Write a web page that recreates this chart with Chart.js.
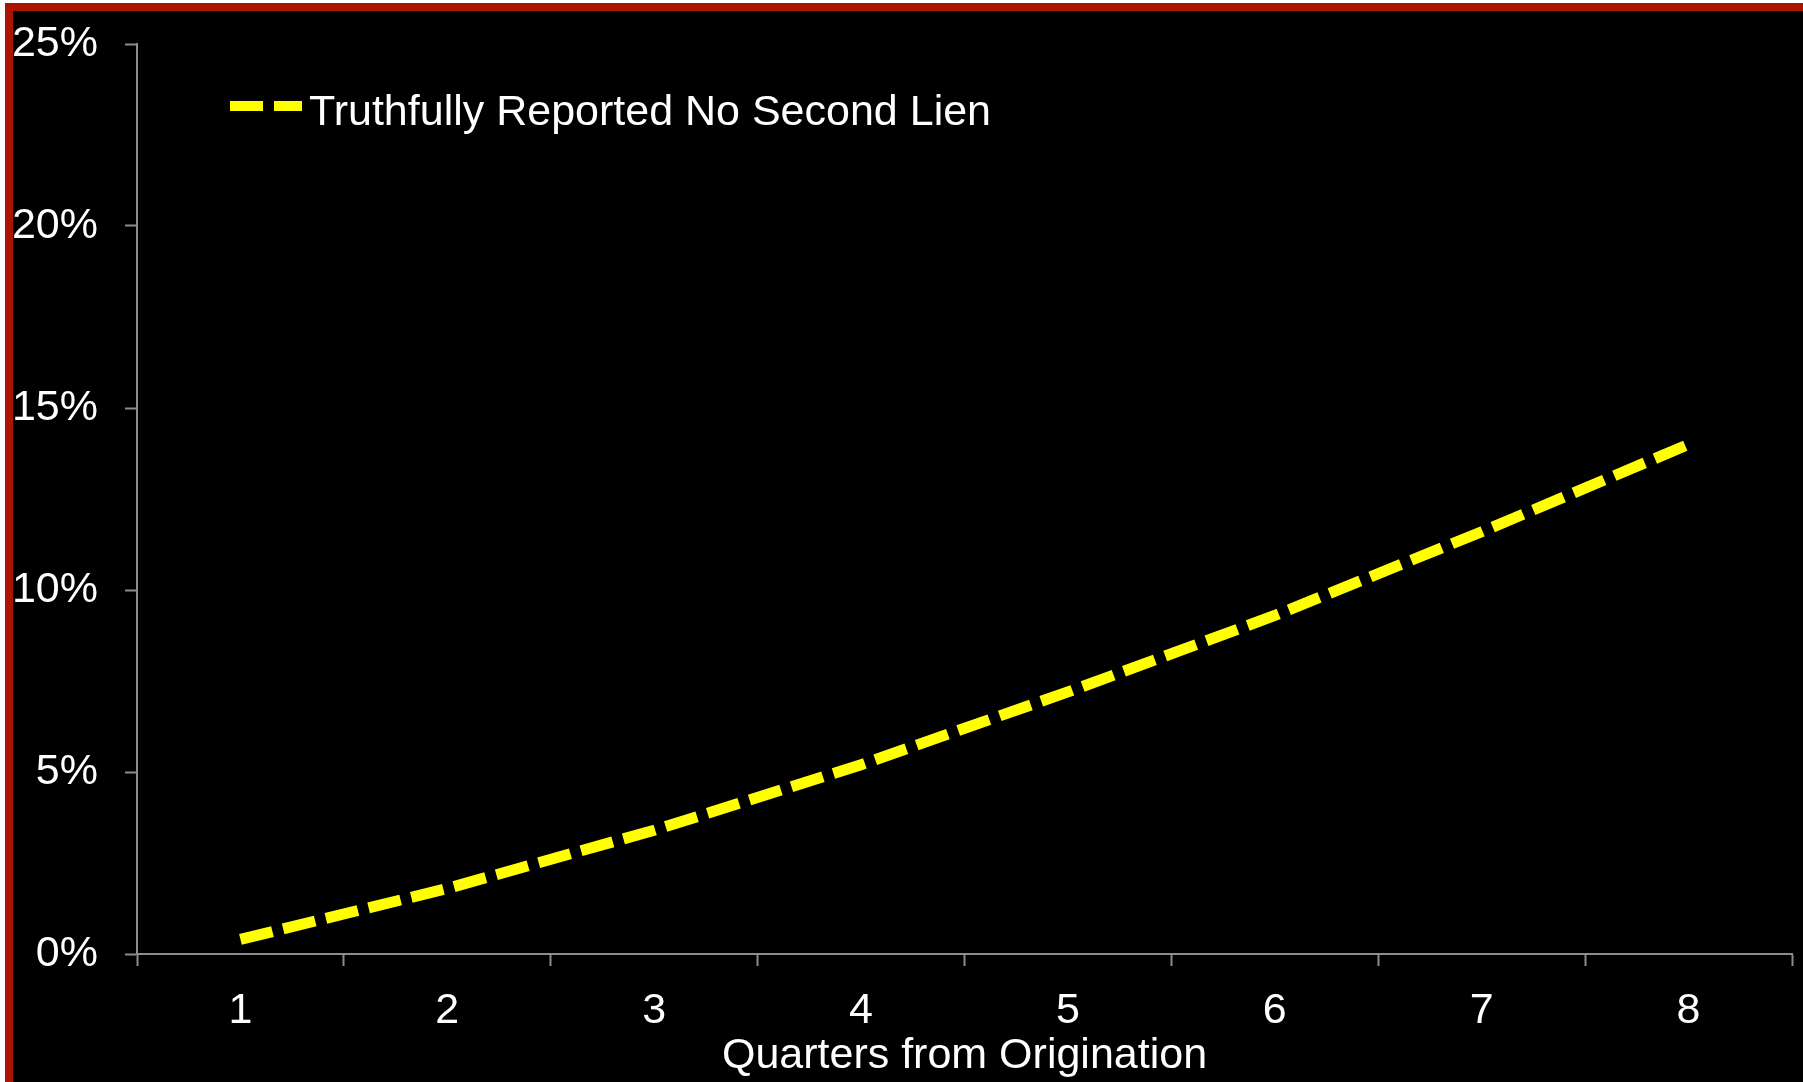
<!DOCTYPE html>
<html>
<head>
<meta charset="utf-8">
<script src="https://cdn.jsdelivr.net/npm/chart.js@4.4.1/dist/chart.umd.min.js"></script>
<style>
    html, body { margin: 0; padding: 0; background: #ffffff; overflow: hidden; }
    .frame {
        position: absolute;
        left: 5px;
        top: 3px;
        width: 1810px;
        height: 1090px;
        background: #000000;
        border-left: 8px solid #aa1400;
        border-top: 8px solid #aa1400;
        border-bottom: 8px solid #aa1400;
    }
    .wrap { position: absolute; left: 0; top: 0; width: 1803px; height: 1082px; }
</style>
</head>
<body>
<div class="frame"></div>
<div class="wrap"><canvas id="myChart" width="1803" height="1082"></canvas></div>
<script>
const quarters = ['1', '2', '3', '4', '5', '6', '7', '8'];
const noSecondLien = [0.4, 1.8, 3.4, 5.2, 7.2, 9.3, 11.6, 14.0];
const seriesLabel = 'Truthfully Reported No Second Lien';
const yTicks = [0, 5, 10, 15, 20, 25];

const axisGrey = '#8c8c8c';
const fontFamily = '"Liberation Sans", Arial, sans-serif';

// legend drawn by hand so the sample keeps the dash pattern
const legendPlugin = {
    id: 'dashLegend',
    afterDraw(chart) {
        const ctx = chart.ctx;
        const ds = chart.data.datasets[0];
        ctx.save();
        ctx.strokeStyle = ds.borderColor;
        ctx.lineWidth = 10;
        ctx.setLineDash(ds.borderDash);
        ctx.beginPath();
        ctx.moveTo(230, 106);
        ctx.lineTo(302, 106);
        ctx.stroke();
        ctx.setLineDash([]);
        ctx.fillStyle = '#ffffff';
        ctx.font = '43px ' + fontFamily;
        ctx.textBaseline = 'middle';
        ctx.fillText(ds.label, 309, 113);
        ctx.restore();
    }
};

const canvas = document.querySelector('#myChart').getContext('2d');
let chart = new Chart(canvas, {
    type: 'line',
    data: {
        labels: quarters,
        datasets: [{
            label: seriesLabel,
            data: noSecondLien,
            borderColor: '#ffff00',
            borderWidth: 11,
            borderDash: [33, 11],
            borderCapStyle: 'butt',
            pointRadius: 0,
            tension: 0,
            fill: false
        }]
    },
    options: {
        responsive: false,
        animation: false,
        layout: { padding: { left: 0, right: 11, top: 44, bottom: 0 } },
        plugins: {
            legend: { display: false },
            tooltip: { enabled: false }
        },
        scales: {
            x: {
                offset: true,
                grid: {
                    offset: true,
                    drawOnChartArea: false,
                    drawTicks: true,
                    tickLength: 12,
                    tickWidth: 2,
                    tickColor: axisGrey
                },
                border: { color: axisGrey, width: 2 },
                ticks: {
                    color: '#ffffff',
                    font: { family: fontFamily, size: 43 },
                    padding: 19,
                    maxRotation: 0
                },
                title: {
                    display: true,
                    text: 'Quarters from Origination',
                    color: '#ffffff',
                    font: { family: fontFamily, size: 43 },
                    padding: { top: -7, bottom: 0 }
                },
                afterFit(scale) { scale.height = 128; }
            },
            y: {
                min: 0,
                max: 25,
                afterBuildTicks(scale) {
                    scale.ticks = yTicks.map(v => ({ value: v }));
                },
                grid: {
                    drawOnChartArea: false,
                    drawTicks: true,
                    tickLength: 12,
                    tickWidth: 2,
                    tickColor: axisGrey
                },
                border: { color: axisGrey, width: 2 },
                ticks: {
                    color: '#ffffff',
                    font: { family: fontFamily, size: 43 },
                    padding: 27,
                    callback: v => v + '%'
                },
                afterFit(scale) {
                    scale.width = 137;
                    scale.paddingTop = 0;
                    scale.paddingBottom = 0;
                }
            }
        }
    },
    plugins: [legendPlugin]
});
</script>
</body>
</html>
